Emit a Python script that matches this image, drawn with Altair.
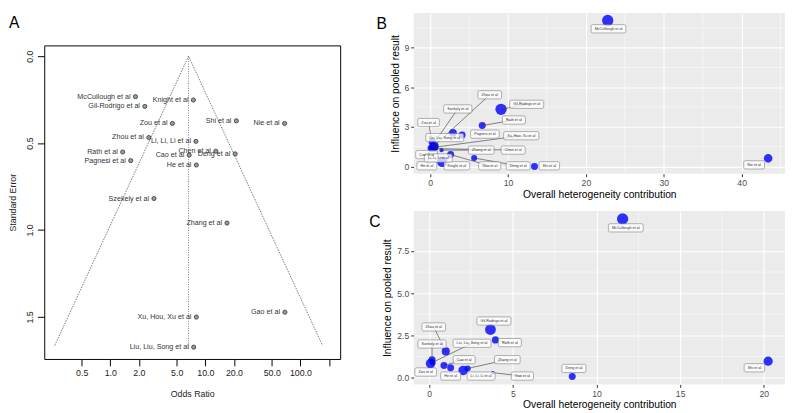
import altair as alt
import pandas as pd

FONT = "Liberation Sans"

# ---------------- Panel A : funnel plot ----------------
a_study = ["McCullough et al", "Knight et al", "Gil-Rodrigo et al", "Zou et al", "Shi et al",
           "Nie et al", "Zhou et al", "Li, Li, Li et al", "Rath et al", "Chen et al",
           "Cao et al", "Deng et al", "Pagnesi et al", "He et al", "Szekely et al",
           "Zhang et al", "Xu, Hou, Xu et al", "Gao et al", "Liu, Liu, Song et al"]
a_or = [1.84, 7.49, 2.31, 4.50, 21.2, 68.2, 2.54, 7.96, 1.35, 12.9,
        6.76, 20.6, 1.64, 8.04, 2.88, 16.9, 8.04, 68.7, 7.54]
a_se = [0.233, 0.252, 0.289, 0.387, 0.372, 0.387, 0.468, 0.490, 0.551, 0.547,
        0.569, 0.562, 0.601, 0.626, 0.819, 0.960, 1.501, 1.473, 1.674]
pooled_or = 6.66
funnel_or = [0.26, 6.66, 171.0]
funnel_se = [1.665, 0.0, 1.665]
ref_se = [0.0, 1.69]
a_xticks = [0.5, 1, 2, 5, 10, 20, 50, 100, 200]
a_yticks = [0.0, 0.5, 1.0, 1.5]

# ---------------- Panel B : Baujat plot ----------------
b_study = ["McCullough et al", "Nie et al", "Gil-Rodrigo et al", "Rath et al", "Liu, Liu, Song et al",
           "Pagnesi et al", "Zhang et al", "Gao et al", "Deng et al", "Shi et al",
           "Knight et al", "Zou et al", "Zhou et al", "Szekely et al", "Xu, Hou, Xu et al",
           "Chen et al", "Cao et al", "He et al", "Li, Li, Li et al"]
b_het = [22.8, 43.4, 9.1, 6.69, 2.93, 4.1, 1.46, 2.63, 5.65, 13.4,
         1.55, 0.25, 0.4, 0.3, 0.5, 0.6, 0.2, 0.05, 0.6]
b_infl = [11.07, 0.62, 4.33, 3.1, 2.55, 2.38, 1.24, 0.9, 0.64, 0.0,
          0.36, 1.85, 1.5, 1.6, 1.45, 1.35, 1.3, 1.4, 1.55]
b_weight = [11.3, 6.7, 11.3, 4.3, 5.4, 4.3, 1.7, 4.3, 3.3, 4.3,
            9.6, 4.3, 4.3, 3.3, 6.7, 2.4, 3.3, 3.3, 5.4]
b_lab_x = [22.9, 41.6, 12.4, 10.75, 1.88, 7.03, 6.56, 7.65, 11.3, 15.3,
           3.43, -0.2, 7.65, 3.55, 11.7, 10.66, -0.44, -0.42, 1.05]
b_lab_y = [10.43, 0.12, 4.71, 3.52, 2.19, 2.45, 1.24, 0.05, 0.05, 0.05,
           0.05, 3.33, 5.43, 4.36, 2.33, 1.24, 0.9, 0.05, 0.64]
b_segment = [False, False, True, True, False, False, True, True, True, False,
             False, True, True, True, True, True, True, True, True]
b_xgrid_major = [0, 10, 20, 30, 40]
b_xgrid_minor = [5, 15, 25, 35, 45]
b_ygrid_major = [0, 3, 6, 9]
b_ygrid_minor = [1.5, 4.5, 7.5, 10.5]

# ---------------- Panel C : Baujat plot ----------------
c_study = ["McCullough et al", "Shi et al", "Deng et al", "Gil-Rodrigo et al", "Rath et al",
           "Zhou et al", "Szekely et al", "Liu, Liu, Song et al", "Zou et al", "Cao et al",
           "He et al", "Li, Li, Li et al", "Zhang et al", "Gao et al"]
c_het = [11.56, 20.26, 8.55, 3.66, 3.96, 0.99, 0.17, 0.2, 0.08, 0.88, 1.28, 2.03, 2.3, 3.81]
c_infl = [9.4, 0.97, 0.06, 2.85, 2.23, 1.55, 1.06, 0.9, 0.83, 0.72, 0.58, 0.42, 0.54, 0.29]
c_weight = [11.3, 7.6, 4.3, 10.4, 4.6, 5.8, 4.3, 3.3, 8.1, 4.3, 4.3, 8.1, 3.3, 1.1]
c_lab_x = [11.75, 19.44, 8.65, 3.87, 4.82, 0.27, 0.17, 2.56, -0.21, 2.09, 1.28, 3.1, 4.67, 5.57]
c_lab_y = [8.87, 0.58, 0.54, 3.35, 2.07, 3.0, 1.99, 2.03, 0.33, 1.06, 0.09, 0.09, 1.06, 0.09]
c_segment = [False, False, False, False, True, True, True, True, False, True,
             False, False, True, True]
c_xgrid_major = [0, 5, 10, 15, 20]
c_xgrid_minor = [2.5, 7.5, 12.5, 17.5]
c_ygrid_major = [0, 2.5, 5, 7.5]
c_ygrid_minor = [1.25, 3.75, 6.25, 8.75]

# ---------------- helpers ----------------
CHAR_W = {'i': .222, 'l': .222, 'j': .222, 't': .278, 'f': .278, 'r': .333, ' ': .278,
          ',': .278, '.': .278, '-': .333, 'c': .5, 's': .5, 'k': .5, 'v': .5, 'y': .5,
          'z': .5, 'x': .5, 'm': .833, 'w': .722, 'M': .833, 'C': .722, 'G': .778,
          'R': .722, 'Z': .611, 'L': .556, 'S': .667, 'X': .667, 'H': .722, 'P': .667,
          'K': .667, 'D': .722, 'N': .722, 'I': .278}


def text_width(s, fs):
    return sum(CHAR_W.get(ch, .556) for ch in s) * fs


def expand(vals, mult=0.05):
    lo, hi = min(vals), max(vals)
    r = hi - lo
    return [lo - mult * r, hi + mult * r]


LAB_FS = 3.8


def baujat(study, het, infl, weight, lx, ly, seg, xmaj, xmin_, ymaj, ymin_,
           width, height, letter, yfmt):
    xd = expand(het)
    yd = expand(infl)
    pxx = width / (xd[1] - xd[0])
    pxy = height / (yd[1] - yd[0])
    df = pd.DataFrame({"study": study, "het": het, "infl": infl, "w": weight,
                       "lx": lx, "ly": ly, "seg": seg})
    df["bx1"] = [x - (text_width(s, LAB_FS) / 2 + 3.6) / pxx for x, s in zip(lx, study)]
    df["bx2"] = [x + (text_width(s, LAB_FS) / 2 + 3.6) / pxx for x, s in zip(lx, study)]
    df["by1"] = [y - 4.2 / pxy for y in ly]
    df["by2"] = [y + 4.2 / pxy for y in ly]

    xs = alt.Scale(domain=xd, nice=False, zero=False)
    ys = alt.Scale(domain=yd, nice=False, zero=False)
    xaxis = alt.Axis(values=xmaj, title="Overall heterogeneity contribution", grid=True,
                     gridColor="white", gridWidth=1.1, domain=False, tickColor="#333333",
                     tickSize=3, labelColor="#4D4D4D", labelFontSize=8.8, labelPadding=2,
                     titleFontSize=10.5, titleFontWeight="normal", titleColor="black",
                     titlePadding=2, labelFont=FONT, titleFont=FONT)
    yaxis = alt.Axis(values=ymaj, title="Influence on pooled result", grid=True, format=yfmt,
                     gridColor="white", gridWidth=1.1, domain=False, tickColor="#333333",
                     tickSize=3, labelColor="#4D4D4D", labelFontSize=8.8, labelPadding=2,
                     titleFontSize=10.5, titleFontWeight="normal", titleColor="black",
                     titlePadding=4, labelFont=FONT, titleFont=FONT)

    base = alt.Chart(df)
    gx = alt.Chart(pd.DataFrame({"v": xmin_})).mark_rule(color="white", strokeWidth=0.5).encode(
        x=alt.X("v:Q", scale=xs, axis=xaxis))
    gy = alt.Chart(pd.DataFrame({"v": ymin_})).mark_rule(color="white", strokeWidth=0.5).encode(
        y=alt.Y("v:Q", scale=ys, axis=yaxis))
    pts = base.mark_circle(color="#0000FF", opacity=0.8).encode(
        x=alt.X("het:Q", scale=xs, axis=xaxis),
        y=alt.Y("infl:Q", scale=ys, axis=yaxis),
        size=alt.Size("w:Q", scale=alt.Scale(domain=[0, 12], range=[0, 141]), legend=None))
    segs = base.transform_filter("datum.seg").mark_rule(color="#333333", strokeWidth=0.6).encode(
        x="het:Q", y="infl:Q", x2="lx:Q", y2="ly:Q")
    boxes = base.mark_rect(fill="white", fillOpacity=0.75, stroke="#666666", strokeWidth=0.5,
                           cornerRadius=1.5).encode(x="bx1:Q", x2="bx2:Q", y="by1:Q", y2="by2:Q")
    texts = base.mark_text(fontSize=LAB_FS, color="#333333", font=FONT).encode(
        x="lx:Q", y="ly:Q", text="study:N")
    return alt.layer(gx, gy, pts, segs, boxes, texts).properties(
        width=width, height=height,
        view=alt.ViewBackground(fill="#EBEBEB", stroke=None),
        title=alt.TitleParams(letter, anchor="start", frame="bounds", fontSize=16,
                              fontWeight="normal", font=FONT, color="black",
                              offset=0, dy=20, dx=-14))


# ---------------- Panel A chart ----------------
dfa = pd.DataFrame({"study": a_study, "or": a_or, "se": a_se})
dff = pd.DataFrame({"or": funnel_or, "se": funnel_se, "k": [0, 1, 2]})
dfr = pd.DataFrame({"or": [pooled_or] * len(ref_se), "se": ref_se})

xsa = alt.Scale(type="log", domain=[0.202, 262], nice=False)
ysa = alt.Scale(domain=[-0.062, 1.742], reverse=True, nice=False, zero=False)
xa_axis = alt.Axis(values=a_xticks, title="Odds Ratio", grid=False, domain=False,
                   labelExpr="datum.value == 200 ? '' : format(datum.value, '.1f')",
                   tickColor="black", tickSize=7, labelColor="#222222", labelFontSize=9,
                   labelPadding=3, titleFontSize=9, titleFontWeight="normal", titlePadding=12,
                   labelFont=FONT, titleFont=FONT, titleColor="#222222")
ya_axis = alt.Axis(values=a_yticks, title="Standard Error", grid=False, domain=False, format=".1f",
                   tickColor="black", tickSize=7, labelColor="#222222", labelFontSize=9,
                   labelAngle=270, labelPadding=3, titleFontSize=9, titleFontWeight="normal",
                   titlePadding=8, labelFont=FONT, titleFont=FONT, titleColor="#222222")

funnel = alt.Chart(dff).mark_line(color="#555555", strokeWidth=0.8, strokeDash=[1.5, 1.2]).encode(
    x=alt.X("or:Q", scale=xsa, axis=xa_axis), y=alt.Y("se:Q", scale=ysa, axis=ya_axis), order="k:Q")
refline = alt.Chart(dfr).mark_line(color="#555555", strokeWidth=0.8, strokeDash=[1, 1.5]).encode(
    x="or:Q", y="se:Q")
apts = alt.Chart(dfa).mark_point(shape="circle", filled=True, fill="#9a9a9a", stroke="#333333",
                                 strokeWidth=0.8, size=18, opacity=1).encode(x="or:Q", y="se:Q")
alabels = alt.Chart(dfa).mark_text(align="right", baseline="middle", dx=-5, fontSize=7.3,
                                   color="#333333", font=FONT).encode(x="or:Q", y="se:Q", text="study:N")

panel_a = alt.layer(funnel, refline, apts, alabels).properties(
    width=302, height=320,
    view=alt.ViewBackground(fill="white", stroke="black", strokeWidth=1),
    title=alt.TitleParams("A", anchor="start", frame="bounds", fontSize=16, fontWeight="normal",
                          font=FONT, color="black", offset=15))

# invisible, empty strip that lines the top of panel A up with the top of panel B
spacer = alt.Chart(pd.DataFrame({"v": pd.Series([], dtype=float)})).mark_point(opacity=0).properties(
    width=10, height=1, view=alt.ViewBackground(fill=None, stroke=None))

panel_b = baujat(b_study, b_het, b_infl, b_weight, b_lab_x, b_lab_y, b_segment,
                 b_xgrid_major, b_xgrid_minor, b_ygrid_major, b_ygrid_minor, 379, 164, "B", "d")
panel_c = baujat(c_study, c_het, c_infl, c_weight, c_lab_x, c_lab_y, c_segment,
                 c_xgrid_major, c_xgrid_minor, c_ygrid_major, c_ygrid_minor, 379, 177, "C", ".1f")

chart = alt.hconcat(alt.vconcat(spacer, panel_a, spacing=0),
                    alt.vconcat(panel_b, panel_c, spacing=10),
                    spacing=28).properties(padding=0).configure(font=FONT)

chart.save("out.html", embed_options={"renderer": "svg", "actions": False})
